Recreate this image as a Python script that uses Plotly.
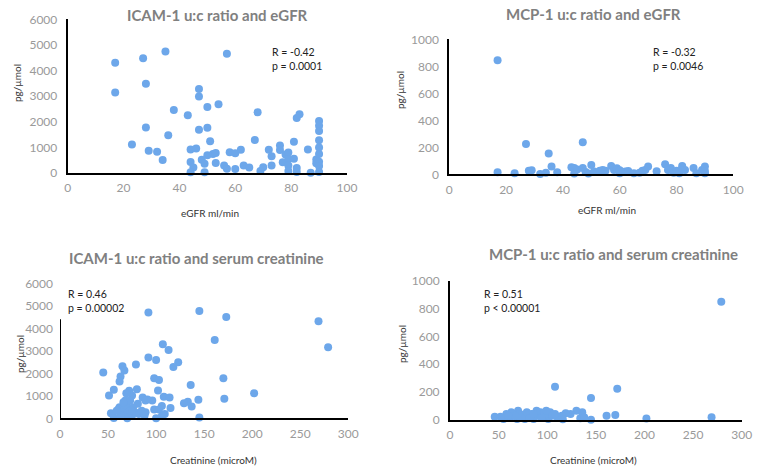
import plotly.graph_objects as go

# Panel 1: ICAM-1 u:c ratio vs eGFR
egfr_icam = [17, 17, 27, 35, 28, 57, 47, 47, 38, 43, 50, 54, 28, 47, 50, 36, 68, 82, 83, 90,
             90, 90, 90, 90, 23, 29, 32, 34, 44, 46, 51, 44, 45, 44, 49, 48, 49, 50, 52, 53,
             53, 56, 57, 58, 60, 62, 60, 63, 65, 67, 69, 70, 72, 73, 73, 76, 76, 77, 78, 79,
             79, 79, 79, 81, 81, 82, 82, 86, 87, 89, 89, 90, 90, 90, 90]
icam_egfr = [4300, 3140, 4480, 4740, 3480, 4660, 3280, 2990, 2460, 2250, 2580, 2680, 1780, 1690, 1770, 1470, 2370, 2150, 2290, 2030,
             1840, 1640, 1280, 1000, 1110, 870, 830, 510, 920, 960, 1240, 430, 210, 30, 30, 520, 360, 690, 740, 780,
             390, 290, 170, 810, 770, 910, 160, 290, 210, 1290, 80, 220, 910, 650, 290, 1070, 900, 420, 720, 800,
             550, 290, 80, 1220, 560, 200, 40, 920, 10, 530, 380, 740, 440, 270, 40]

# Panel 2: MCP-1 u:c ratio vs eGFR
egfr_mcp = [17, 17, 23, 27, 28, 29, 32, 34, 35, 36, 38, 43, 44, 44, 45, 47, 47, 48, 49, 50,
            51, 53, 54, 55, 57, 58, 59, 60, 60, 62, 63, 65, 67, 68, 69, 70, 73, 76, 77, 78,
            79, 80, 81, 82, 82, 83, 86, 87, 89, 90, 90, 90]
mcp_egfr = [845, 15, 7, 225, 27, 30, 2, 12, 155, 57, 15, 52, 47, 5, 35, 237, 47, 17, 5, 69,
            20, 27, 32, 27, 62, 32, 44, 7, 30, 20, 25, 7, 12, 27, 32, 57, 22, 74, 32, 47,
            12, 27, 7, 44, 62, 32, 47, 7, 32, 57, 7, 25]

# Panel 3: ICAM-1 u:c ratio vs serum creatinine
creat_icam = [92, 145, 173, 269, 279, 161, 107, 113, 92, 100, 123, 118, 65, 67, 79, 45, 63, 62, 98, 103,
              136, 170, 202, 171, 144, 56, 51, 72, 80, 102, 108, 114, 133, 129, 137, 115, 106, 98, 103, 109,
              106, 100, 145, 86, 91, 96, 89, 81, 75, 69, 55, 56, 53, 61, 62, 66, 69, 70, 70, 73,
              75, 76, 78, 82, 85, 88, 89, 68, 73, 63, 59, 75, 66]
icam_creat = [4700, 4770, 4500, 4310, 3160, 3480, 3290, 3040, 2700, 2590, 2490, 2280, 2310, 2130, 2390, 2040, 1860, 1640, 1780, 1700,
              1480, 1780, 1110, 870, 830, 1270, 1010, 1230, 1290, 1240, 960, 920, 740, 670, 520, 460, 550, 390, 390, 190,
              100, 0, 30, 930, 840, 790, 790, 650, 1010, 1110, 190, 10, 220, 410, 490, 340, 560, 190, 0, 340,
              120, 490, 270, 190, 340, 120, 270, 790, 790, 120, 340, 340, 710]

# Panel 4: MCP-1 u:c ratio vs serum creatinine
creat_mcp = [279, 108, 172, 145, 269, 202, 161, 170, 145, 136, 130, 134, 138, 124, 119, 115, 116, 110, 103, 101,
             97, 93, 89, 86, 84, 81, 79, 75, 72, 70, 69, 65, 63, 62, 58, 55, 52, 46, 72, 77,
             82, 94, 105, 108, 89, 99, 67, 60, 86]
mcp_creat = [849, 239, 225, 158, 19, 10, 31, 36, 2, 55, 67, 12, 19, 43, 48, 31, 5, 24, 55, 7,
             31, 55, 31, 7, 43, 31, 55, 31, 43, 67, 7, 43, 55, 19, 43, 7, 24, 24, 19, 7,
             14, 14, 31, 43, 67, 67, 31, 31, 43]

titles = ["ICAM-1 u:c ratio and eGFR", "MCP-1 u:c ratio and eGFR",
          "ICAM-1 u:c ratio and serum creatinine", "MCP-1 u:c ratio and serum creatinine"]
xtitles = ["eGFR ml/min", "eGFR ml/min", "Creatinine (microM)", "Creatinine (microM)"]
stats = [("R = -0.42", "p = 0.0001"), ("R = -0.32", "p = 0.0046"),
         ("R = 0.46", "p = 0.00002"), ("R = 0.51", "p < 0.00001")]

W, H = 760, 468
PT_COLOR = "#6DA7EA"
TICK_COLOR = "#9A9A9A"
FONT = "Lato"

def px(x):
    return x / W

def py(y):
    return 1 - y / H

fig = go.Figure()
series = [(egfr_icam, icam_egfr), (egfr_mcp, mcp_egfr), (creat_icam, icam_creat), (creat_mcp, mcp_creat)]
for i, (xs, ys) in enumerate(series):
    sfx = "" if i == 0 else str(i + 1)
    fig.add_trace(go.Scatter(x=xs, y=ys, mode="markers", xaxis="x" + sfx, yaxis="y" + sfx,
                             marker=dict(color=PT_COLOR, size=8, line=dict(width=0)),
                             cliponaxis=False, showlegend=False, hoverinfo="skip"))

# (x0px, x1px, y0px(bottom), y1px(top), xrange, yrange, ydtick, showyline)
panels = [
    (67.7, 347.0, 173.0, 19.3, [0, 100], [0, 6000], 1000, True),
    (449.3, 733.3, 174.3, 39.3, [0, 100], [0, 1000], 200, True),
    (60.0, 348.3, 418.3, 283.3, [0, 300], [0, 6000], 1000, False),
    (450.0, 741.7, 420.0, 280.7, [0, 300], [0, 1000], 200, True),
]
xdticks = [20, 20, 50, 50]

layout = dict(width=W, height=H, margin=dict(l=0, r=0, t=0, b=0, autoexpand=False),
              paper_bgcolor="white", plot_bgcolor="white", showlegend=False)
for i, (x0, x1, yb, yt, xr, yr, ydt, yline) in enumerate(panels):
    sfx = "" if i == 0 else str(i + 1)
    layout["xaxis" + sfx] = dict(domain=[px(x0), px(x1)], range=xr, dtick=xdticks[i], anchor="y" + sfx,
                                 showgrid=False, zeroline=False, showline=True, linecolor="black", linewidth=2,
                                 ticks="", ticklabelstandoff=3, automargin=False,
                                 tickfont=dict(family=FONT, size=12, color=TICK_COLOR), fixedrange=True)
    layout["yaxis" + sfx] = dict(domain=[py(yb), py(yt)], range=yr, dtick=ydt, anchor="x" + sfx,
                                 showgrid=False, zeroline=False, showline=yline, linecolor="black", linewidth=2,
                                 ticks="", ticklabelstandoff=6, automargin=False,
                                 tickfont=dict(family=FONT, size=12, color=TICK_COLOR), fixedrange=True)
fig.update_layout(**layout)

# Partial vertical axis line for panel 3 (as in the original)
fig.add_shape(type="line", xref="x3", yref="y3", x0=0, x1=0, y0=0, y1=4400,
              line=dict(color="black", width=2))

title_pos = [(217, 15), (593, 13.5), (197, 257.5), (613, 254.5)]
xtitle_pos = [(210, 213), (607, 210.5), (213, 459.5), (593, 460)]
ytitle_pos = [(17, 83), (400, 90), (20, 354), (402, 344)]
stat_pos = [(270, 58.8), (650.7, 58.8), (65.7, 301), (481.7, 300.8)]

ann = []
for i in range(4):
    tx, ty = title_pos[i]
    ann.append(dict(text="<b>" + titles[i] + "</b>", x=px(tx), y=py(ty), xref="paper", yref="paper",
                    xanchor="center", yanchor="middle", showarrow=False,
                    font=dict(family=FONT, size=15, color="#808080")))
    ax, ay = xtitle_pos[i]
    ann.append(dict(text=xtitles[i], x=px(ax), y=py(ay), xref="paper", yref="paper",
                    xanchor="center", yanchor="middle", showarrow=False,
                    font=dict(family=FONT, size=10, color="#333333")))
    yx, yy = ytitle_pos[i]
    ann.append(dict(text="pg/µmol", x=px(yx), y=py(yy), xref="paper", yref="paper", textangle=-90,
                    xanchor="center", yanchor="middle", showarrow=False,
                    font=dict(family=FONT, size=10, color="#333333")))
    sx, sy = stat_pos[i]
    ann.append(dict(text=stats[i][0] + "<br>" + stats[i][1], x=px(sx), y=py(sy), xref="paper", yref="paper",
                    xanchor="left", yanchor="middle", align="left", showarrow=False,
                    font=dict(family=FONT, size=10.5, color="#222222")))
fig.update_layout(annotations=ann)

fig.write_html("out.html", config={"displayModeBar": False, "staticPlot": True},
               post_script="document.body.style.margin='0px';")
